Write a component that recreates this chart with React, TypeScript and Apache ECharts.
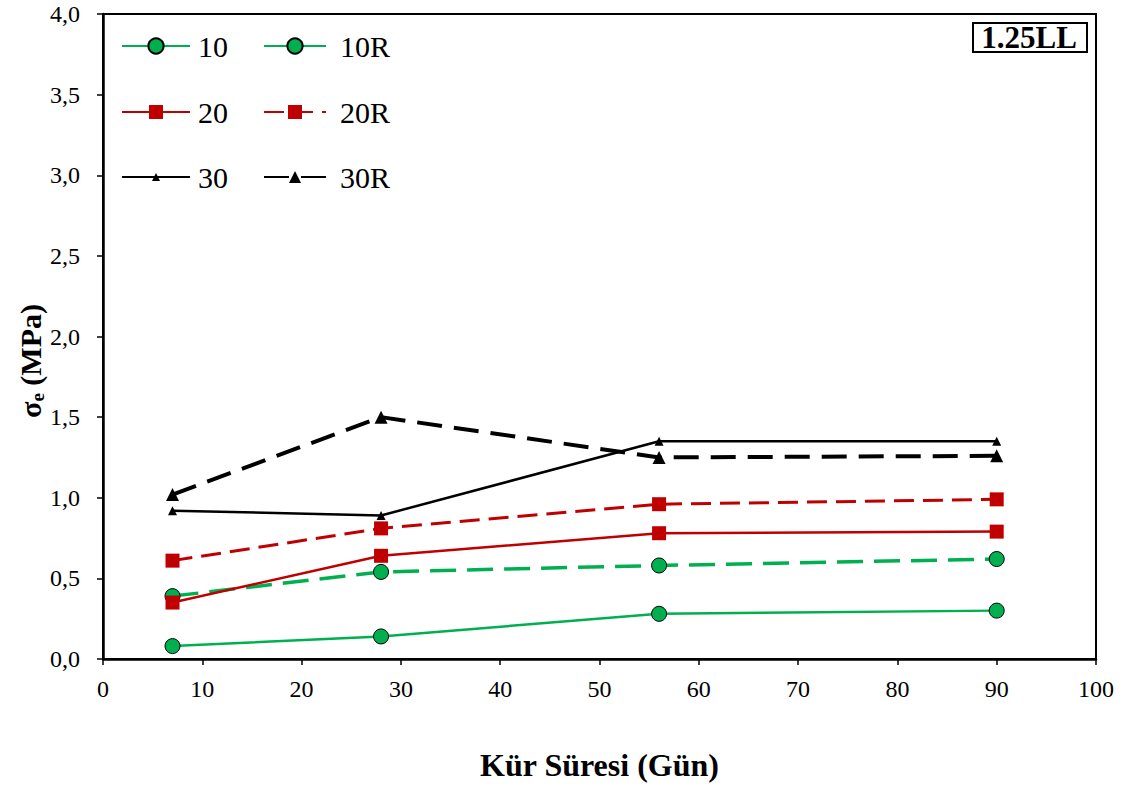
import React, { useEffect, useRef } from "react";
import * as echarts from "echarts";

// Cure time (days)
const days = [7, 28, 56, 90];

// Unconfined strength σe (MPa) per mix
const s10 = [0.08, 0.14, 0.28, 0.3];
const s10R = [0.39, 0.54, 0.58, 0.62];
const s20 = [0.35, 0.64, 0.78, 0.79];
const s20R = [0.61, 0.81, 0.96, 0.99];
const s30 = [0.92, 0.89, 1.35, 1.35];
const s30R = [1.02, 1.5, 1.25, 1.26];

const GREEN = "#00B050";
const RED = "#C00000";
const BLACK = "#000000";
const FONT = "Liberation Serif";

const pair = (ys: number[]) => days.map((d, i) => [d, ys[i]]);

export default function App() {
  const ref = useRef<HTMLDivElement>(null);

  useEffect(() => {
    if (!ref.current) return;
    const chart = echarts.init(ref.current, undefined, { renderer: "svg" });

    const circle = {
      symbol: "circle",
      symbolSize: 15,
      itemStyle: { color: GREEN, borderColor: BLACK, borderWidth: 1 },
    };
    const square = {
      symbol: "rect",
      symbolSize: 14,
      itemStyle: { color: RED },
    };

    // one legend block per entry, laid out as a 2 x 3 key
    const legendItem = (name: string, left: number, top: number, w: number, h: number, pad: number) => ({
      data: [name],
      left,
      top,
      itemWidth: w,
      itemHeight: h,
      padding: 0,
      textStyle: {
        fontFamily: FONT,
        fontSize: 30,
        lineHeight: 30,
        color: BLACK,
        padding: [0, 0, 0, pad],
      },
    });

    chart.setOption({
      animation: false,
      backgroundColor: "#ffffff",
      grid: {
        left: 103,
        right: 30,
        top: 14,
        bottom: 130,
        show: true,
        borderColor: BLACK,
        borderWidth: 2,
      },
      legend: [
        legendItem("10", 121, 31, 68, 19, 3),
        legendItem("10R", 263, 31, 62, 19, 9),
        legendItem("20", 121, 97, 68, 17.5, 3),
        legendItem("20R", 263, 97, 62, 17.5, 9),
        legendItem("30", 121, 162, 68, 10, 3),
        legendItem("30R", 263, 162, 62, 15, 9),
      ],
      xAxis: {
        type: "value",
        min: 0,
        max: 100,
        interval: 10,
        name: "Kür Süresi (Gün)",
        nameLocation: "middle",
        nameGap: 90,
        nameTextStyle: { fontFamily: FONT, fontSize: 32, fontWeight: "bold", color: BLACK },
        axisLine: { onZero: false, lineStyle: { color: BLACK, width: 2.5 } },
        axisTick: { length: 6, lineStyle: { color: BLACK, width: 1.5 } },
        axisLabel: { fontFamily: FONT, fontSize: 24, color: BLACK, margin: 18 },
        splitLine: { show: false },
      },
      yAxis: {
        type: "value",
        min: 0,
        max: 4,
        interval: 0.5,
        axisLine: { show: true, lineStyle: { color: BLACK, width: 2.5 } },
        axisTick: { show: true, length: 6, lineStyle: { color: BLACK, width: 1.5 } },
        axisLabel: {
          fontFamily: FONT,
          fontSize: 24,
          color: BLACK,
          margin: 23,
          formatter: (v: number) => v.toFixed(1).replace(".", ","),
        },
        splitLine: { show: false },
      },
      graphic: [
        {
          type: "text",
          x: 30,
          y: 361,
          rotation: Math.PI / 2,
          style: {
            text: "{s|σ}{sub|e}{s| (MPa)}",
            align: "center",
            verticalAlign: "middle",
            rich: {
              s: { fontFamily: FONT, fontSize: 30, fontWeight: "bold", fill: BLACK, lineHeight: 34 },
              sub: {
                fontFamily: FONT,
                fontSize: 19,
                fontWeight: "bold",
                fill: BLACK,
                lineHeight: 34,
                padding: [14, 0, 0, 0],
              },
            },
          },
        },
        {
          type: "rect",
          left: 972,
          top: 22,
          shape: { width: 114, height: 29 },
          style: { fill: "#fff", stroke: BLACK, lineWidth: 2 },
        },
        {
          type: "text",
          x: 1029,
          y: 37,
          style: {
            text: "1.25LL",
            font: `bold 31px '${FONT}'`,
            fill: BLACK,
            align: "center",
            verticalAlign: "middle",
          },
        },
      ],
      series: [
        {
          name: "10",
          type: "line",
          data: pair(s10),
          ...circle,
          lineStyle: { color: GREEN, width: 2.5, type: "solid" },
        },
        {
          name: "10R",
          type: "line",
          data: pair(s10R),
          ...circle,
          lineStyle: { color: GREEN, width: 3.5, type: [26, 11] },
        },
        {
          name: "20",
          type: "line",
          data: pair(s20),
          ...square,
          lineStyle: { color: RED, width: 2.5, type: "solid" },
        },
        {
          name: "20R",
          type: "line",
          data: pair(s20R),
          ...square,
          lineStyle: { color: RED, width: 3, type: [20, 9] },
        },
        {
          name: "30",
          type: "line",
          data: pair(s30),
          symbol: "triangle",
          symbolSize: 9,
          itemStyle: { color: BLACK },
          lineStyle: { color: BLACK, width: 2.5, type: "solid" },
        },
        {
          name: "30R",
          type: "line",
          data: pair(s30R),
          symbol: "triangle",
          symbolSize: 13,
          itemStyle: { color: BLACK },
          lineStyle: { color: BLACK, width: 4, type: [25, 12] },
        },
      ],
    });

    return () => chart.dispose();
  }, []);

  return (
    <div
      ref={ref}
      style={{ position: "fixed", left: 0, top: 0, width: 1126, height: 789, background: "#fff" }}
    />
  );
}
